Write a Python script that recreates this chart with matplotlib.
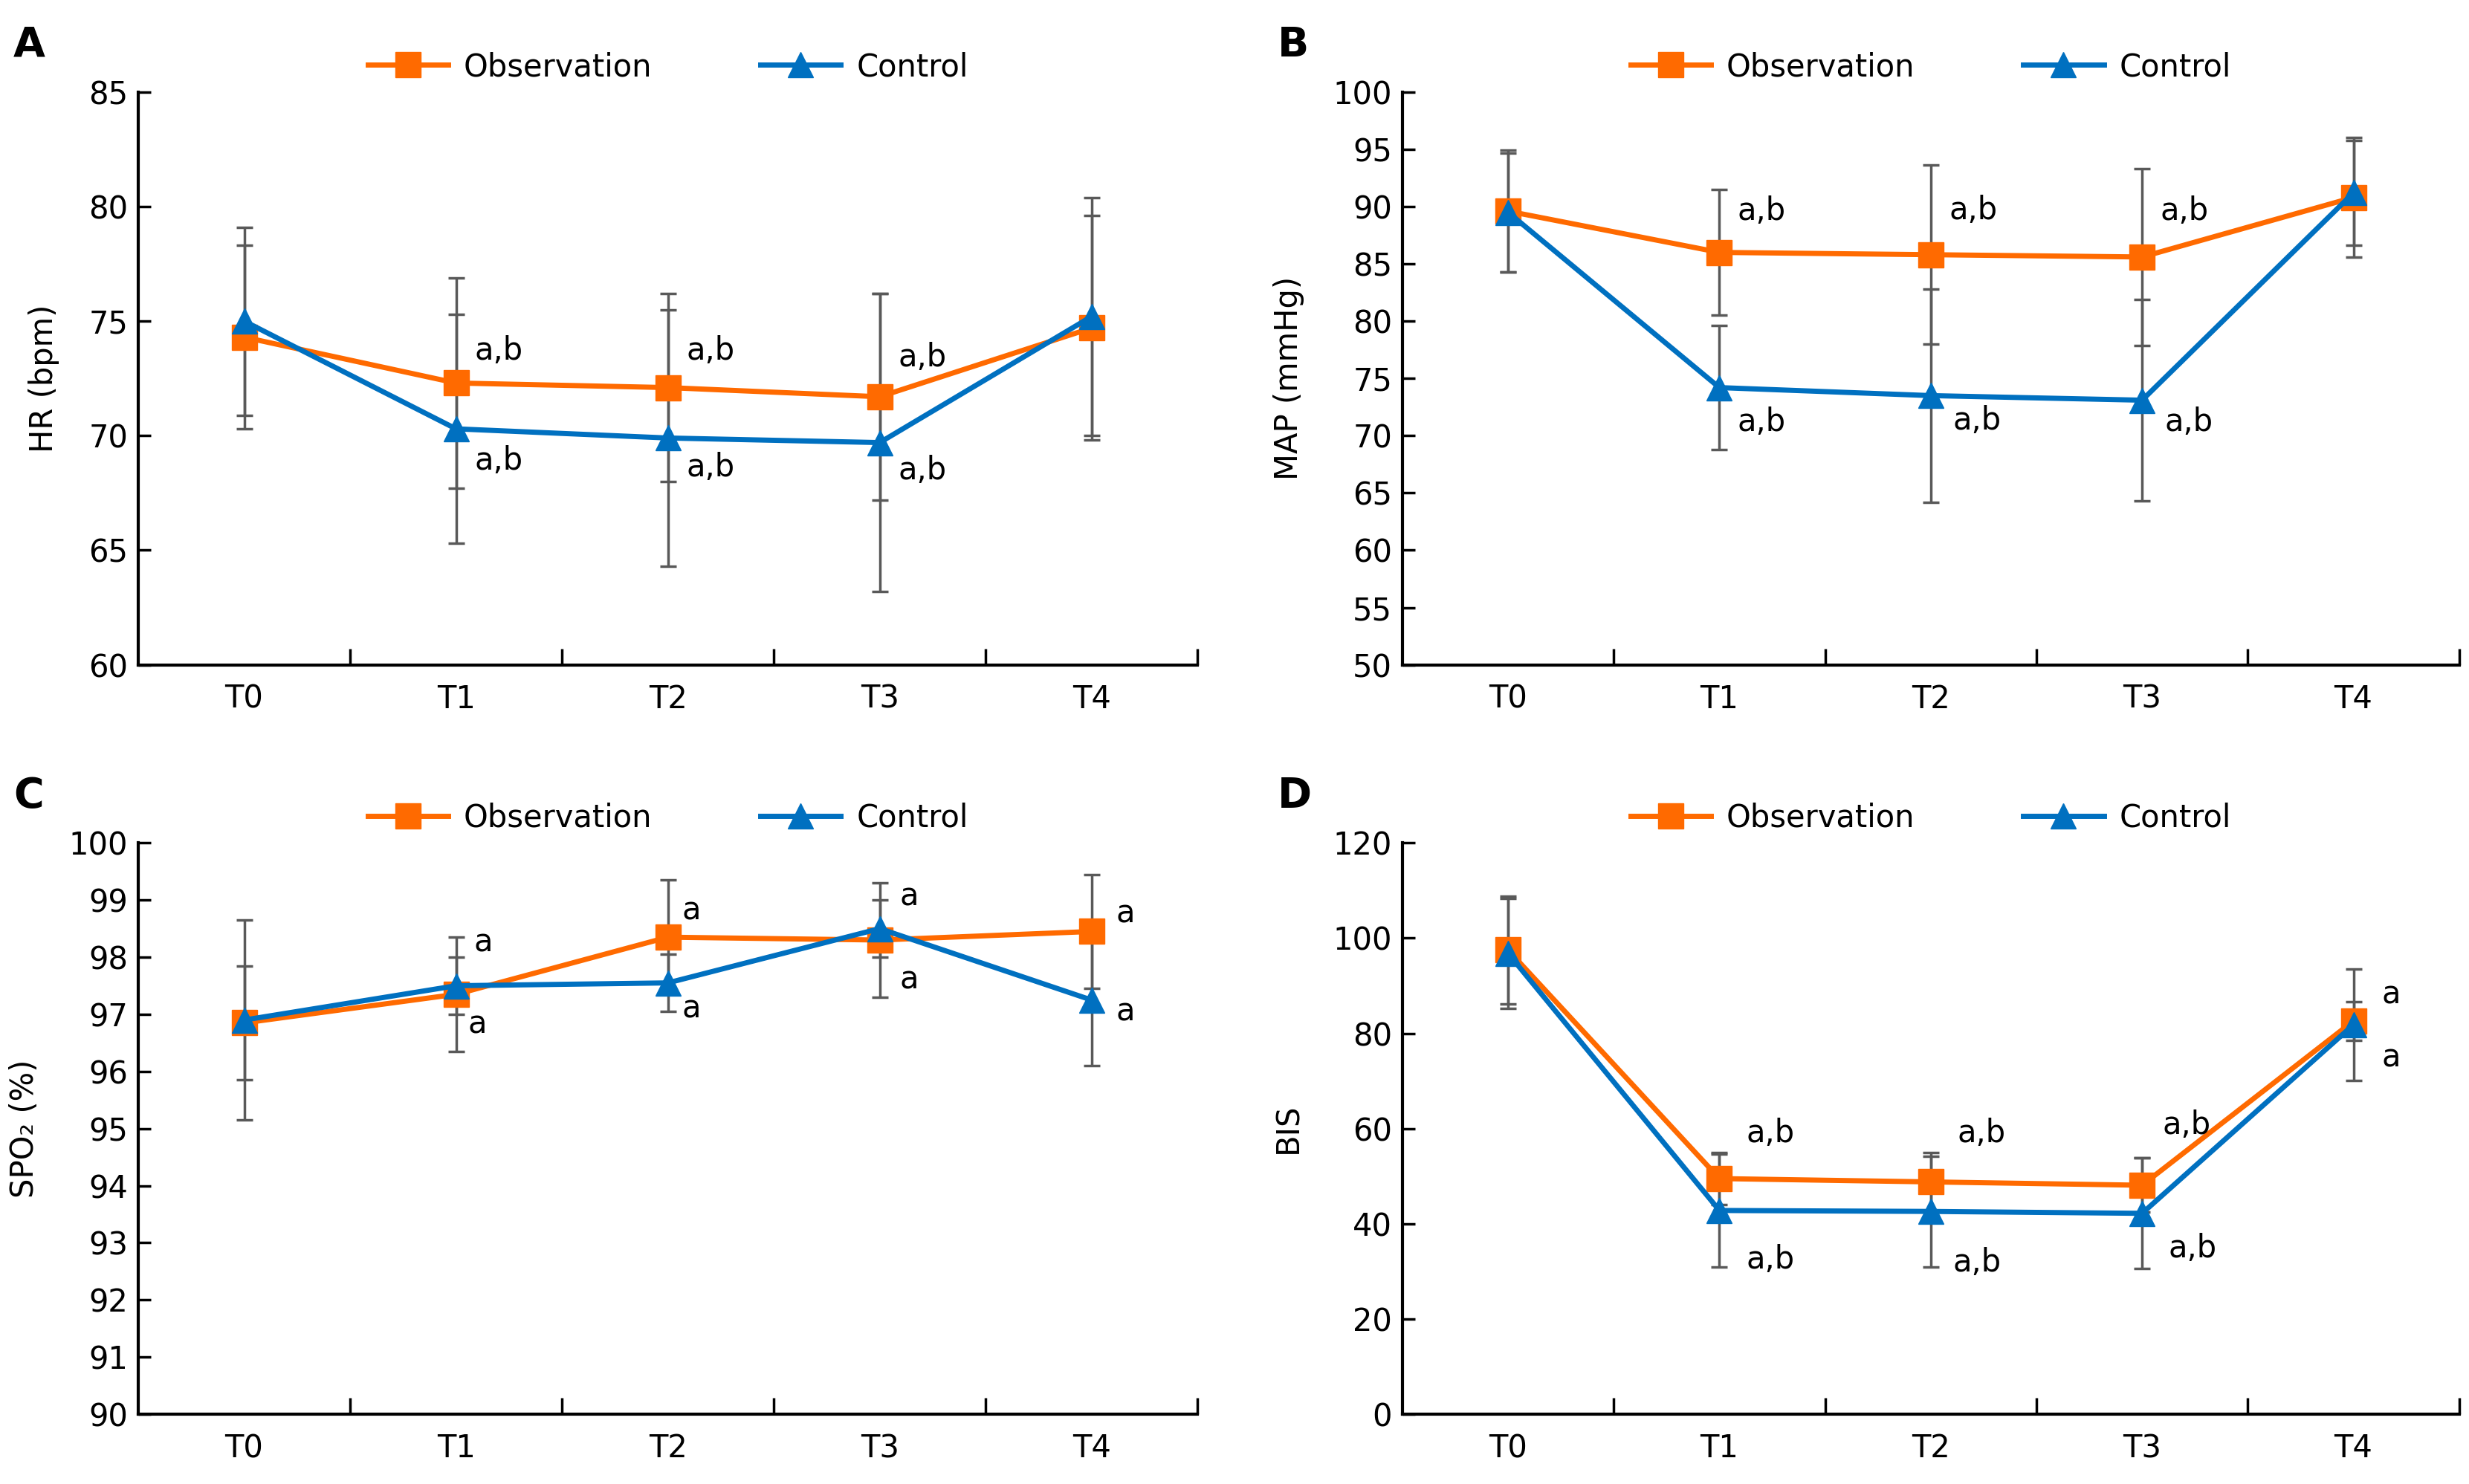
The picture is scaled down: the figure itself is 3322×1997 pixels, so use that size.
import matplotlib
matplotlib.use("Agg")
import matplotlib.pyplot as plt

# =======================
# DATA
# =======================
time_points = ["T0", "T1", "T2", "T3", "T4"]

# A - HR
hr_obs = [74.3, 72.3, 72.1, 71.7, 74.7]
hr_obs_sd = [4.0, 4.6, 4.1, 4.5, 4.9]
hr_ctrl = [75.0, 70.3, 69.9, 69.7, 75.2]
hr_ctrl_sd = [4.1, 5.0, 5.6, 6.5, 5.2]

# B - MAP
map_obs = [89.6, 86.0, 85.8, 85.6, 90.8]
map_obs_sd = [5.3, 5.5, 7.8, 7.7, 5.2]
map_ctrl = [89.5, 74.2, 73.5, 73.1, 91.2]
map_ctrl_sd = [5.2, 5.4, 9.3, 8.8, 4.6]

# C - SPO2
spo_obs = [96.85, 97.35, 98.35, 98.3, 98.45]
spo_obs_sd = [1.0, 1.0, 1.0, 1.0, 1.0]
spo_ctrl = [96.9, 97.5, 97.55, 98.5, 97.25]
spo_ctrl_sd = [1.75, 0.5, 0.5, 0.5, 1.15]

# D - BIS
bis_obs = [97.5, 49.5, 48.8, 48.1, 82.6]
bis_obs_sd = [11.3, 5.5, 6.2, 5.7, 4.0]
bis_ctrl = [96.8, 42.8, 42.6, 42.2, 81.8]
bis_ctrl_sd = [11.5, 11.8, 11.6, 11.6, 11.7]

# significance labels: (index, text, x offset, y)
hr_marks = [(1, "a,b", 0.2, 73.7), (2, "a,b", 0.2, 73.7), (3, "a,b", 0.2, 73.4),
            (1, "a,b", 0.2, 68.9), (2, "a,b", 0.2, 68.6), (3, "a,b", 0.2, 68.5)]
map_marks = [(1, "a,b", 0.2, 89.6), (2, "a,b", 0.2, 89.7), (3, "a,b", 0.2, 89.6),
             (1, "a,b", 0.2, 71.2), (2, "a,b", 0.22, 71.3), (3, "a,b", 0.22, 71.2)]
spo_marks = [(1, "a", 0.13, 98.26), (2, "a", 0.11, 98.82), (3, "a", 0.14, 99.06), (4, "a", 0.16, 98.76),
             (1, "a", 0.1, 96.83), (2, "a", 0.11, 97.1), (3, "a", 0.14, 97.6), (4, "a", 0.16, 97.05)]
bis_marks = [(1, "a,b", 0.24, 59.0), (2, "a,b", 0.24, 59.0), (3, "a,b", 0.21, 60.7), (4, "a", 0.18, 88.2),
             (1, "a,b", 0.24, 32.5), (2, "a,b", 0.22, 31.8), (3, "a,b", 0.24, 34.8), (4, "a", 0.18, 74.9)]

ORANGE = "#FF6A00"
BLUE = "#0070C0"
GREY = "#595959"
FS = 30

plt.rcParams["font.family"] = ["DejaVu Sans"]

fig = plt.figure(figsize=(33.22, 19.97), dpi=100)

panels = [
    ("A", [0.056, 0.552, 0.429, 0.386], hr_obs, hr_obs_sd, hr_ctrl, hr_ctrl_sd,
     (60, 85), range(60, 86, 5), "HR (bpm)", hr_marks),
    ("B", [0.568, 0.552, 0.428, 0.386], map_obs, map_obs_sd, map_ctrl, map_ctrl_sd,
     (50, 100), range(50, 101, 5), "MAP (mmHg)", map_marks),
    ("C", [0.056, 0.047, 0.429, 0.385], spo_obs, spo_obs_sd, spo_ctrl, spo_ctrl_sd,
     (90, 100), range(90, 101, 1), "SPO₂ (%)", spo_marks),
    ("D", [0.568, 0.047, 0.428, 0.385], bis_obs, bis_obs_sd, bis_ctrl, bis_ctrl_sd,
     (0, 120), range(0, 121, 20), "BIS", bis_marks),
]

x = list(range(len(time_points)))

for letter, rect, obs, obs_sd, ctrl, ctrl_sd, ylim, yticks, ylabel, marks in panels:
    ax = fig.add_axes(rect)

    ax.errorbar(x, obs, yerr=obs_sd, fmt="none", ecolor=GREY, elinewidth=2.5,
                capsize=8, capthick=2.5, zorder=1)
    ax.errorbar(x, ctrl, yerr=ctrl_sd, fmt="none", ecolor=GREY, elinewidth=2.5,
                capsize=8, capthick=2.5, zorder=1)
    ax.plot(x, obs, color=ORANGE, lw=5, marker="s", ms=24, label="Observation", zorder=3)
    ax.plot(x, ctrl, color=BLUE, lw=5, marker="^", ms=24, label="Control", zorder=4)

    for i, txt, dx, yy in marks:
        ax.text(i + dx, yy, txt, fontsize=FS, ha="center", va="center")

    ax.set_xlim(-0.5, 4.5)
    ax.set_ylim(*ylim)
    ax.set_yticks(list(yticks))
    ax.set_xticks(x)
    ax.set_xticklabels(time_points)
    ax.set_xticks([0.5, 1.5, 2.5, 3.5, 4.5], minor=True)
    ax.tick_params(axis="x", which="major", length=0, labelsize=FS, pad=18)
    ax.tick_params(axis="x", which="minor", direction="in", length=16, width=2.5)
    ax.tick_params(axis="y", direction="in", length=12, width=2.5, labelsize=FS, pad=10)
    for s in ["top", "right"]:
        ax.spines[s].set_visible(False)
    for s in ["left", "bottom"]:
        ax.spines[s].set_linewidth(3)
    ax.set_ylabel(ylabel, fontsize=FS, labelpad=28)

    ax.legend(loc="lower center", bbox_to_anchor=(0.5, 0.995), ncol=2, frameon=False,
              fontsize=FS, handlelength=2.6, columnspacing=3.5, handletextpad=0.5,
              borderaxespad=0)

    ax.text(-0.118, 1.082, letter, transform=ax.transAxes, fontsize=40,
            fontweight="bold", ha="left", va="center")

fig.savefig("out.png", dpi=100)
